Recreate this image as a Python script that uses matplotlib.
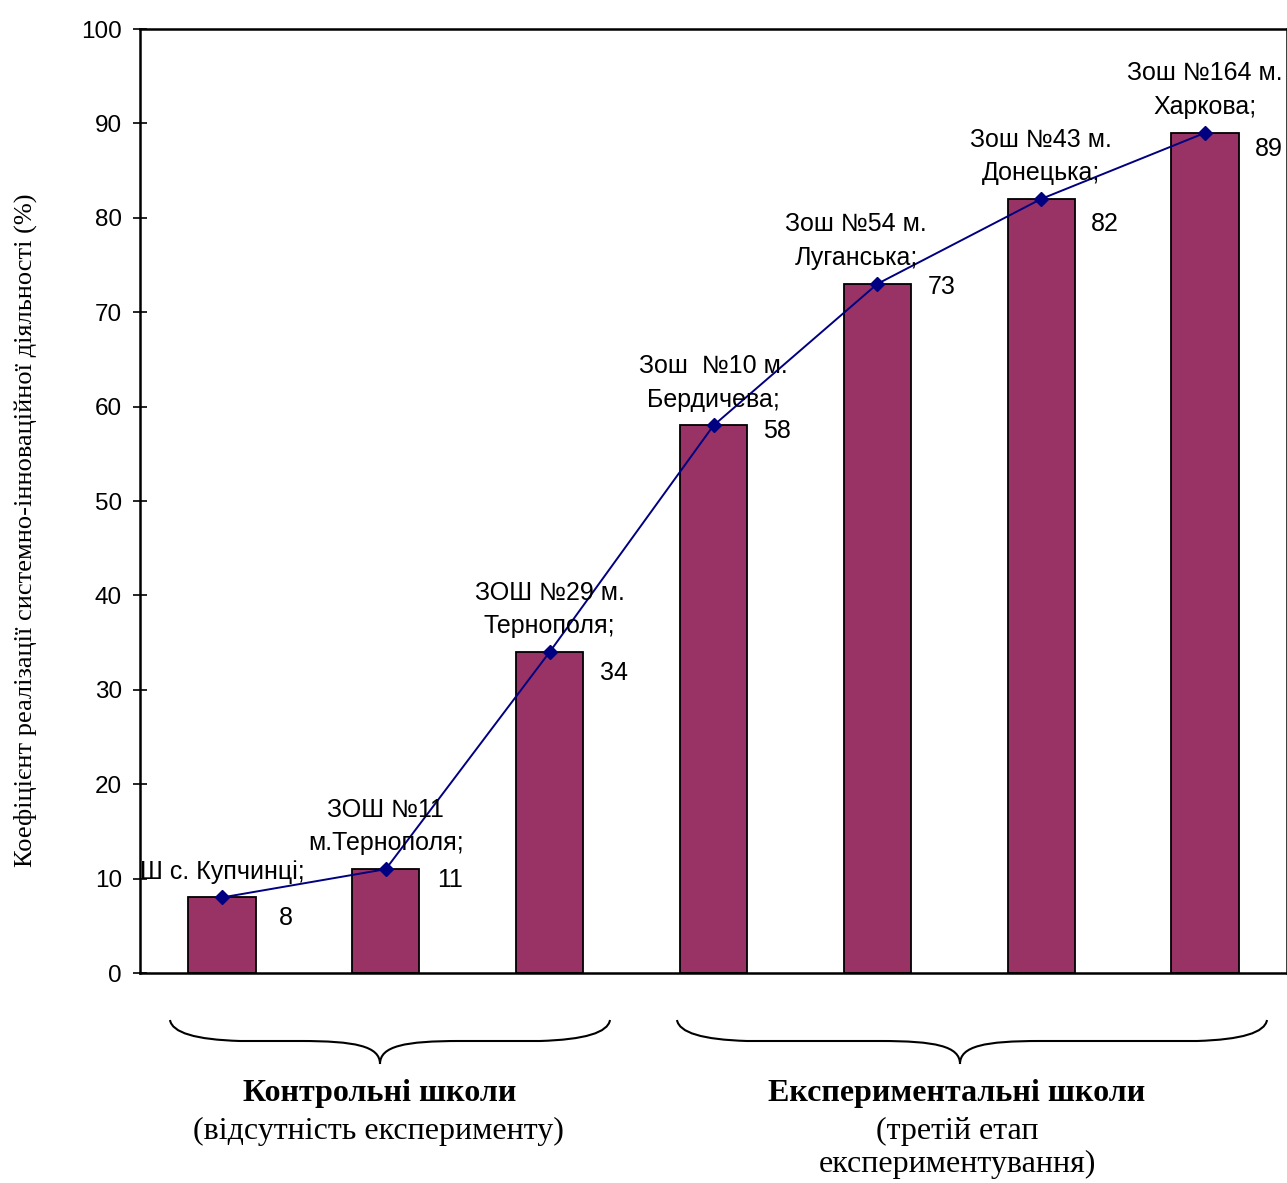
import matplotlib.pyplot as plt
import numpy as np
from matplotlib.path import Path
from matplotlib.patches import PathPatch

schools = ['Ш с. Купчинці;', 'ЗОШ №11\nм.Тернополя;', 'ЗОШ №29 м.\nТернополя;',
           'Зош  №10 м.\nБердичева;', 'Зош №54 м.\nЛуганська;', 'Зош №43 м.\nДонецька;',
           'Зош №164 м.\nХаркова;']
values = [8, 11, 34, 58, 73, 82, 89]
yticks = [0, 10, 20, 30, 40, 50, 60, 70, 80, 90, 100]
ylabel = 'Коефіцієнт реалізації системно-інноваційної діяльності (%)'
groups = ['Контрольні школи', 'Експериментальні школи']
group_notes = ['(відсутність експерименту)', '(третій етап\nекспериментування)']

# nudges (px) of the labels, as they were placed in the original
label_dy = [-21, -11, -21, -6, -3, -25, -16]
name_dx = [0, 0, 0, 0, -21, 0, 0]

W, H = 1287, 1183
fig = plt.figure(figsize=(W / 100, H / 100), dpi=100)
ax = fig.add_axes([140 / W, 1 - 973 / H, 1147 / W, (973 - 29) / H])

x = np.arange(len(values))
ax.bar(x, values, width=0.41, color='#993366', edgecolor='black', linewidth=1.3, zorder=2)
ax.plot(x, values, color='#000080', marker='D', markersize=7, linewidth=1.4, zorder=3)

ax.set_xlim(-0.5, len(values) - 0.5)
ax.set_ylim(0, 100)
ax.set_yticks(yticks)
ax.set_xticks([])
ax.tick_params(axis='y', labelsize=17.5, direction='inout', length=10, width=1.2, pad=8)
for lab in ax.get_yticklabels():
    lab.set_family('Liberation Sans')
for side in ['left', 'bottom', 'top', 'right']:
    ax.spines[side].set_linewidth(1.8)

for xi, v, name, dx, dy in zip(x, values, schools, name_dx, label_dy):
    ax.annotate(name, (xi, v), xytext=(dx * 0.72, 10), textcoords='offset points',
                ha='center', va='bottom', fontsize=18, family='Liberation Sans',
                linespacing=1.5, zorder=4)
    ax.annotate(str(v), (xi, v), xytext=(46, dy * 0.72), textcoords='offset points',
                ha='center', va='center', fontsize=18, family='Liberation Sans')

fig.text(25 / W, 1 - 530 / H, ylabel, rotation=90, ha='center', va='center',
         fontsize=19, family='Liberation Serif')


def brace(x0, x1, xc, ytop, ymid, ytip):
    # curly brace drawn in pixel coords, converted to figure fraction
    pts = [(x0, ytop), (x0 + 3, ymid - 2), (x0 + 70, ymid),
           (xc - 80, ymid), (xc - 25, ymid), (xc, ymid + 5), (xc, ytip),
           (xc, ymid + 5), (xc + 25, ymid), (xc + 80, ymid),
           (x1 - 70, ymid), (x1 - 3, ymid - 2), (x1, ytop)]
    codes = [Path.MOVETO, Path.CURVE3, Path.CURVE3,
             Path.LINETO, Path.CURVE4, Path.CURVE4, Path.CURVE4,
             Path.CURVE4, Path.CURVE4, Path.CURVE4,
             Path.LINETO, Path.CURVE3, Path.CURVE3]
    pts = [(px / W, 1 - py / H) for px, py in pts]
    fig.patches.append(PathPatch(Path(pts, codes), transform=fig.transFigure,
                                 fill=False, edgecolor='black', linewidth=1.5))


brace(170, 610, 380, 1020, 1041, 1064)
brace(677, 1267, 960, 1020, 1041, 1064)

fig.text(380 / W, 1 - 1094 / H, groups[0], ha='center', va='center',
         fontsize=23, fontweight='bold', family='Liberation Serif')
fig.text(378 / W, 1 - 1131 / H, group_notes[0], ha='center', va='center',
         fontsize=23, family='Liberation Serif')
fig.text(957 / W, 1 - 1094 / H, groups[1], ha='center', va='center',
         fontsize=23, fontweight='bold', family='Liberation Serif')
fig.text(957 / W, 1 - 1148 / H, group_notes[1], ha='center', va='center',
         fontsize=23, family='Liberation Serif', linespacing=1.2)

fig.savefig('out.png', dpi=100)
